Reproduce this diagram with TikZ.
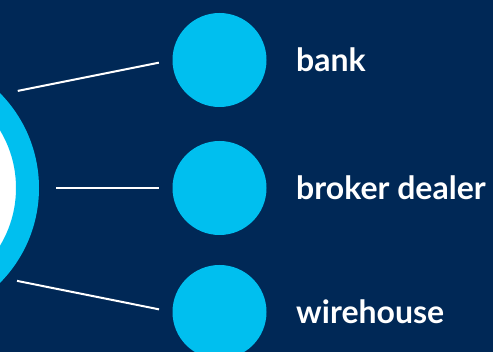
\documentclass[tikz,border=0pt]{standalone}
\usepackage{fontspec}
\setmainfont{Lato}
\definecolor{navy}{HTML}{002856}
\definecolor{sky}{HTML}{00BFEF}

\begin{document}
\begin{tikzpicture}[
  x=1pt, y=-1pt,
  every node/.style={inner sep=0pt},
  hubring/.style={circle, draw=sky, fill=white, line width=23pt, minimum size=247pt},
  dot/.style={circle, fill=sky, minimum size=94pt},
  tag/.style={anchor=base west, text=white, font=\bfseries\fontsize{32}{38}\selectfont},
  spoke/.style={draw=white, line width=2pt}]

  % canvas
  \useasboundingbox (0,0) rectangle (493,352);
  \fill[navy] (0,0) rectangle (493,352);
  \clip (0,0) rectangle (493,352);

  % vertices
  \node[hubring] (hub)    at (-96,188)   {};
  \node[dot]     (bank)   at (219.5,60)  {};
  \node[dot]     (broker) at (219.5,188) {};
  \node[dot]     (wire)   at (219.5,312) {};

  % spokes
  \draw[spoke, shorten <=17pt, shorten >=13.7pt] (hub.44.5)  -- (bank.west);
  \draw[spoke, shorten <=17pt, shorten >=13pt]   (hub.0)     -- (broker.west);
  \draw[spoke, shorten <=13pt, shorten >=13.5pt] (hub.-42.6) -- (wire.west);

  % labels
  \node[tag] (banktxt)   at (296,72)  {bank};
  \node[tag] (brokertxt) at (296,200) {broker dealer};
  \node[tag] (wiretxt)   at (296,324) {wirehouse};
\end{tikzpicture}
\end{document}
